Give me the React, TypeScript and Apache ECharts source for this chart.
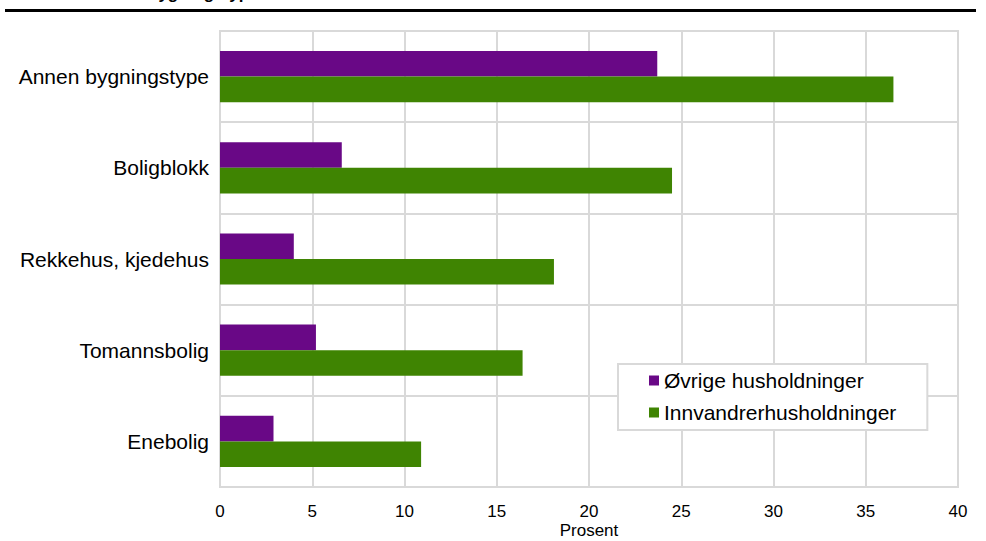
import React, { useEffect, useRef } from "react";
import * as echarts from "echarts";

const categories = [
  "Annen bygningstype",
  "Boligblokk",
  "Rekkehus, kjedehus",
  "Tomannsbolig",
  "Enebolig",
];
const seriesNames = ["Øvrige husholdninger", "Innvandrerhusholdninger"];
const ovrige = [23.7, 6.6, 4.0, 5.2, 2.9];
const innvandrer = [36.5, 24.5, 18.1, 16.4, 10.9];
const xTicks = { min: 0, max: 40, interval: 5 };
const axisName = "Prosent";
const titleFragment = "bygningstype";

const GRID = "#d9d9d9";
const PURPLE = "#690886";
const GREEN = "#3f8402";
const SANS = "'Liberation Sans', Arial, sans-serif";
const NARROW = "'Liberation Sans Narrow', 'Arial Narrow', 'Liberation Sans', Arial, sans-serif";

export default function App() {
  const ref = useRef<HTMLDivElement>(null);
  useEffect(() => {
    if (!ref.current) return;
    const chart = echarts.init(ref.current, null, { renderer: "svg" });
    chart.setOption({
      animation: false,
      backgroundColor: "#ffffff",
      grid: {
        left: 220,
        right: 28,
        top: 31,
        bottom: 54,
        show: true,
        borderColor: GRID,
        borderWidth: 2,
        containLabel: false,
        outerBoundsMode: "none",
      },
      graphic: [
        {
          type: "line",
          shape: { x1: 5, y1: 10.5, x2: 976, y2: 10.5 },
          style: { stroke: "#000", lineWidth: 3 },
        },
        {
          type: "text",
          x: 148,
          y: -6.5,
          style: {
            text: titleFragment,
            font: "bold 17px " + SANS,
            fill: "#000",
            verticalAlign: "middle",
          },
        },
      ],
      legend: {
        orient: "vertical",
        left: 618,
        top: 364,
        padding: [6, 31, 7, 31],
        itemGap: 11,
        itemWidth: 10,
        itemHeight: 10,
        icon: "rect",
        backgroundColor: "#fff",
        borderColor: GRID,
        borderWidth: 2,
        borderRadius: 0,
        data: seriesNames,
        textStyle: {
          fontFamily: SANS,
          fontSize: 21,
          lineHeight: 21,
          color: "#000",
          padding: [0, 0, 0, 0],
        },
      },
      xAxis: {
        type: "value",
        min: xTicks.min,
        max: xTicks.max,
        interval: xTicks.interval,
        name: axisName,
        nameLocation: "middle",
        nameGap: 35,
        nameMoveOverlap: false,
        nameTextStyle: { fontFamily: NARROW, fontSize: 17, lineHeight: 17, color: "#000" },
        axisLine: { show: true, lineStyle: { color: GRID, width: 2 } },
        axisTick: { show: false },
        axisLabel: { fontFamily: NARROW, fontSize: 17, lineHeight: 17, color: "#000", margin: 16 },
        splitLine: { show: true, lineStyle: { color: GRID, width: 2 } },
      },
      yAxis: {
        type: "category",
        inverse: true,
        data: categories,
        axisLine: { show: true, lineStyle: { color: GRID, width: 2 } },
        axisTick: { show: false },
        axisLabel: { fontFamily: SANS, fontSize: 21, color: "#000", margin: 11 },
        splitLine: { show: true, lineStyle: { color: GRID, width: 2 } },
      },
      series: [
        {
          name: seriesNames[0],
          type: "bar",
          data: ovrige,
          barWidth: 25.6,
          barGap: "0%",
          itemStyle: { color: PURPLE },
        },
        {
          name: seriesNames[1],
          type: "bar",
          data: innvandrer,
          barWidth: 25.6,
          barGap: "0%",
          itemStyle: { color: GREEN },
        },
      ],
    });
    return () => chart.dispose();
  }, []);
  return (
    <div
      ref={ref}
      style={{ position: "fixed", left: 0, top: 0, width: 986, height: 541 }}
    />
  );
}
